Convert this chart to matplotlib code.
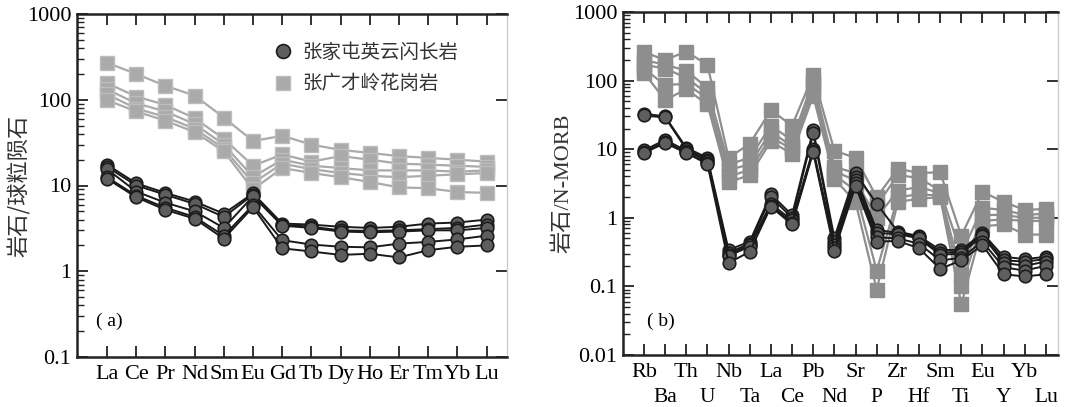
import matplotlib
matplotlib.use("Agg")
import matplotlib.pyplot as plt
from matplotlib.lines import Line2D
from matplotlib.ticker import LogLocator, NullFormatter, FixedLocator, FixedFormatter

# ---------------- data ----------------
ree = ["La", "Ce", "Pr", "Nd", "Sm", "Eu", "Gd", "Tb", "Dy", "Ho", "Er", "Tm", "Yb", "Lu"]

# 张家屯英云闪长岩 (chondrite normalised)
ree_tonalite = [
    [17.5, 10.6, 8.2, 6.5, 4.7, 8.1, 3.6, 3.5, 3.3, 3.2, 3.3, 3.6, 3.7, 4.0],
    [16.5, 10.0, 7.8, 6.1, 4.3, 7.8, 3.5, 3.3, 3.0, 2.95, 3.0, 3.1, 3.2, 3.5],
    [15.5, 8.5, 6.3, 5.0, 3.2, 7.5, 3.4, 3.2, 2.9, 2.85, 2.9, 3.0, 3.0, 3.2],
    [12.5, 7.6, 5.5, 4.3, 2.6, 5.9, 2.3, 2.05, 1.93, 1.9, 2.1, 2.2, 2.35, 2.6],
    [12.0, 7.3, 5.2, 4.1, 2.4, 5.6, 1.85, 1.7, 1.55, 1.6, 1.45, 1.76, 1.93, 2.0],
]
# 张广才岭花岗岩 (chondrite normalised)
ree_granite = [
    [270, 200, 145, 112, 62, 33, 38, 30, 26, 24, 22, 21, 20, 19],
    [156, 109, 87, 61, 35, 17, 23, 19, 22, 20, 18, 17.5, 17, 16.5],
    [132, 91, 73, 52, 30, 12.6, 20, 17, 16, 15, 15, 15, 14.5, 15],
    [116, 79, 63, 46, 27, 10.7, 18, 15.5, 14, 13, 12.5, 13, 13.5, 14],
    [99, 73, 57, 42, 25, 9.0, 16, 14, 12.5, 11, 9.5, 9.3, 8.4, 8.2],
]

spider = ["Rb", "Ba", "Th", "U", "Nb", "Ta", "La", "Ce", "Pb", "Nd",
          "Sr", "P", "Zr", "Hf", "Sm", "Ti", "Eu", "Y", "Yb", "Lu"]

# 张家屯英云闪长岩 (N-MORB normalised)
spider_tonalite = [
    [33, 30, 10.5, 7.5, 0.34, 0.45, 2.2, 1.1, 19, 0.51, 4.5, 1.6, 0.63, 0.54, 0.34, 0.34, 0.60, 0.27, 0.25, 0.27],
    [31, 29, 10.0, 7.0, 0.31, 0.42, 2.0, 1.0, 17, 0.45, 3.9, 0.67, 0.60, 0.52, 0.31, 0.32, 0.57, 0.24, 0.23, 0.25],
    [9.6, 13.7, 9.5, 6.8, 0.29, 0.40, 1.6, 0.92, 10, 0.40, 3.5, 0.60, 0.58, 0.50, 0.29, 0.30, 0.55, 0.22, 0.20, 0.23],
    [9.2, 12.8, 9.0, 6.3, 0.28, 0.38, 1.5, 0.85, 9.5, 0.36, 3.2, 0.52, 0.50, 0.42, 0.24, 0.26, 0.45, 0.19, 0.17, 0.20],
    [8.8, 12.3, 8.8, 6.1, 0.22, 0.32, 1.45, 0.80, 9.0, 0.33, 2.9, 0.45, 0.46, 0.36, 0.18, 0.24, 0.40, 0.15, 0.14, 0.15],
]
# 张广才岭花岗岩 (N-MORB normalised)
spider_granite = [
    [260, 200, 265, 170, 7.5, 12, 37, 22, 120, 9.5, 7.5, 2.0, 5.2, 4.5, 4.6, 0.55, 2.4, 1.7, 1.3, 1.35],
    [200, 170, 140, 78, 6.0, 7.5, 22, 13.5, 100, 5.5, 4.5, 1.5, 4.2, 3.8, 2.5, 0.30, 1.4, 1.3, 1.1, 1.15],
    [170, 150, 110, 65, 5.0, 6.0, 18, 11, 85, 4.8, 3.5, 1.0, 2.5, 2.8, 2.3, 0.15, 1.1, 1.1, 1.0, 1.0],
    [150, 86, 90, 55, 4.0, 5.0, 15, 10, 70, 4.2, 2.5, 0.17, 2.0, 2.2, 2.1, 0.10, 0.9, 0.95, 0.9, 0.9],
    [130, 52, 75, 45, 3.3, 4.2, 13, 8.5, 60, 3.7, 1.7, 0.09, 1.7, 1.9, 2.0, 0.055, 0.75, 0.8, 0.57, 0.57],
]

legend_labels = ["张家屯英云闪长岩", "张广才岭花岗岩"]

# ---------------- style ----------------
SERIF = ["Liberation Serif", "DejaVu Serif"]
CJK = ["Noto Sans CJK SC", "DejaVu Sans"]
circ_face = "#5e5e5e"
circ_edge = "#1c1c1c"
sq_a = "#aaaaaa"
sq_b = "#8e8e8e"

fig = plt.figure(figsize=(10.68, 4.07), dpi=100)
axa = fig.add_axes([77 / 1068, 50 / 407, 430 / 1068, 343 / 407])
axb = fig.add_axes([623 / 1068, 52 / 407, 435 / 1068, 343 / 407])


def style_axis(ax):
    ax.set_yscale("log")
    for s in ["left", "bottom", "top"]:
        ax.spines[s].set_linewidth(1.8)
        ax.spines[s].set_color("#222222")
    ax.spines["right"].set_linewidth(1.0)
    ax.spines["right"].set_color("#cccccc")
    ax.tick_params(axis="x", which="both", direction="in", length=8, width=1.3,
                   top=True, bottom=True, color="#222222")
    ax.tick_params(axis="y", which="major", direction="in", length=8, width=1.3,
                   left=True, right=True, color="#222222")
    ax.tick_params(axis="y", which="minor", direction="in", length=5, width=1.0,
                   left=True, right=False, color="#222222")
    ax.yaxis.set_minor_locator(LogLocator(base=10, subs=range(2, 10), numticks=20))
    ax.yaxis.set_minor_formatter(NullFormatter())


def fmt(v):
    return ("%g" % v)

# ---------------- panel (a) ----------------
xa = list(range(len(ree)))
for row in ree_granite:
    axa.plot(xa, row, "-", color=sq_a, lw=1.6, marker="s", ms=10,
             mfc=sq_a, mec="#bdbdbd", mew=1.0, zorder=2)
for row in ree_tonalite:
    axa.plot(xa, row, "-", color="#1a1a1a", lw=1.4, marker="o", ms=9,
             mfc=circ_face, mec=circ_edge, mew=1.2, zorder=3)

style_axis(axa)
axa.set_xlim(-1.03, 13.7)
axa.set_ylim(0.1, 1000)
axa.set_xticks(xa)
axa.set_xticklabels(ree, fontfamily=SERIF, fontsize=16)
yt = [0.1, 1, 10, 100, 1000]
axa.set_yticks(yt)
axa.set_yticklabels([fmt(v) for v in yt], fontfamily=SERIF, fontsize=16)
axa.tick_params(axis="x", pad=6)
axa.tick_params(axis="y", pad=4)
axa.set_ylabel("岩石/球粒陨石", fontfamily=CJK, fontsize=16, color="#333333")
axa.yaxis.set_label_coords(-0.108, 0.5)
axa.text(0.045, 0.09, "( a)", transform=axa.transAxes, fontfamily=SERIF, fontsize=14)

handles = [
    Line2D([], [], ls="none", marker="o", ms=10, mfc=circ_face, mec=circ_edge, mew=1.2),
    Line2D([], [], ls="none", marker="s", ms=10, mfc=sq_a, mec="#bdbdbd", mew=1.0),
]
leg = axa.legend(handles, legend_labels, loc="upper left", bbox_to_anchor=(0.42, 0.97),
                 frameon=False, handlelength=0.8, handletextpad=0.6, labelspacing=0.55,
                 prop={"family": CJK, "size": 14})
for t in leg.get_texts():
    t.set_color("#333333")

# ---------------- panel (b) ----------------
xb = list(range(len(spider)))
for row in spider_granite:
    axb.plot(xb, row, "-", color=sq_b, lw=1.6, marker="s", ms=10,
             mfc=sq_b, mec=sq_b, mew=1.0, zorder=2)
for row in spider_tonalite:
    axb.plot(xb, row, "-", color="#1a1a1a", lw=1.4, marker="o", ms=9,
             mfc=circ_face, mec=circ_edge, mew=1.2, zorder=3)

style_axis(axb)
axb.set_xlim(-0.99, 19.57)
axb.set_ylim(0.01, 1000)
# upper row of labels on major ticks, lower row on minor ticks
xb_top = xb[0::2]
xb_low = xb[1::2]
axb.xaxis.set_major_locator(FixedLocator(xb_top))
axb.xaxis.set_major_formatter(FixedFormatter(spider[0::2]))
axb.xaxis.set_minor_locator(FixedLocator(xb_low))
axb.xaxis.set_minor_formatter(FixedFormatter(spider[1::2]))
for lab in axb.get_xticklabels(which="both"):
    lab.set_fontfamily(SERIF)
axb.tick_params(axis="x", which="major", pad=6, labelsize=16)
axb.tick_params(axis="x", which="minor", pad=24, labelsize=15.5)
ytb = [0.01, 0.1, 1, 10, 100, 1000]
axb.set_yticks(ytb)
axb.set_yticklabels([fmt(v) for v in ytb], fontfamily=SERIF, fontsize=16)
axb.tick_params(axis="y", pad=4)
axb.set_ylabel("岩石/N-MORB", fontfamily=["Liberation Serif", "Noto Sans CJK SC"], fontsize=16,
               color="#333333")
axb.yaxis.set_label_coords(-0.114, 0.5)
axb.text(0.055, 0.085, "( b)", transform=axb.transAxes, fontfamily=SERIF, fontsize=14)

fig.savefig("out.png", dpi=100)
